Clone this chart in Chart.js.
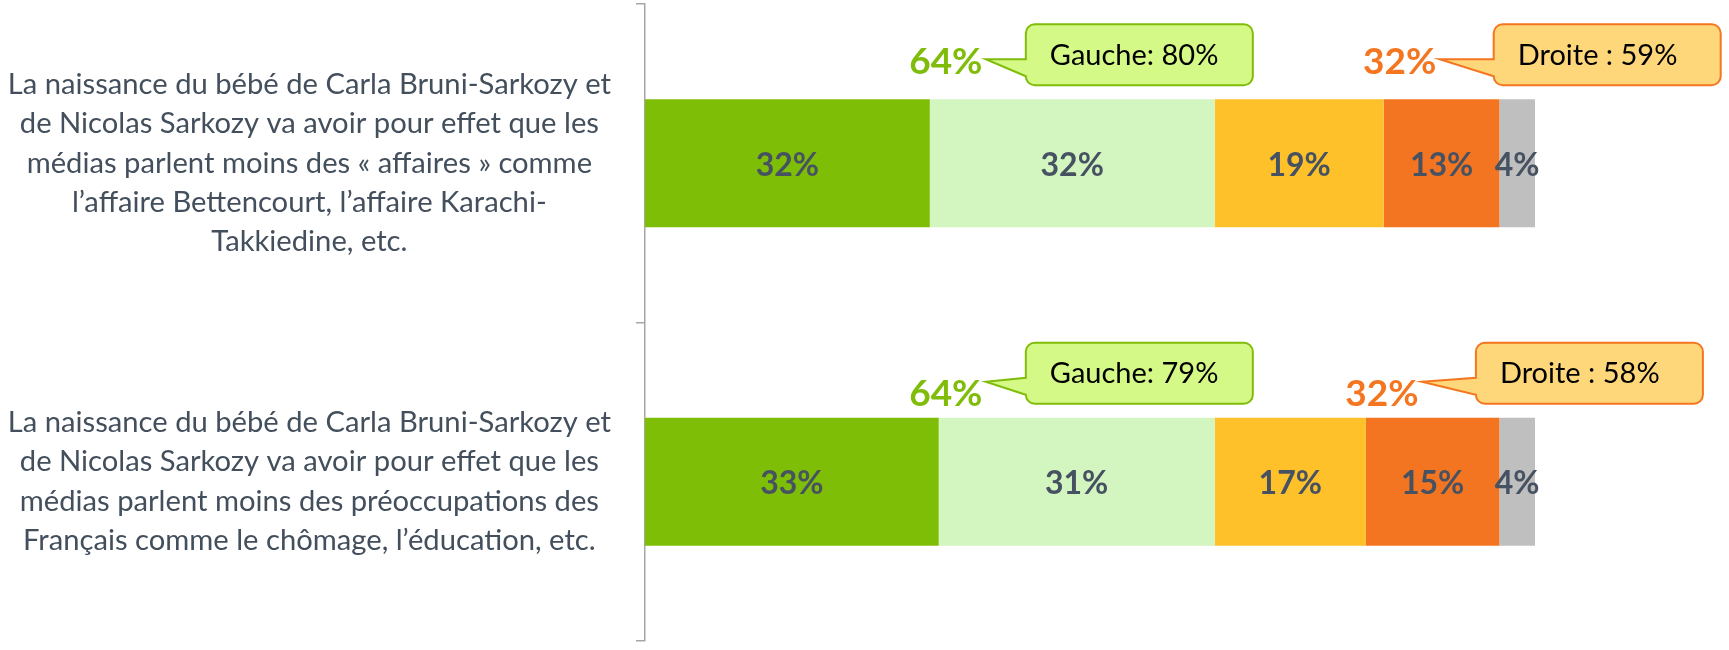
<!DOCTYPE html>
<html>
<head>
<meta charset="utf-8">
<script src="https://cdn.jsdelivr.net/npm/chart.js@4.4.0/dist/chart.umd.min.js"></script>
<style>
  body { margin: 0; background: #fff; }
  #wrap { width: 1729px; height: 650px; }
</style>
</head>
<body>
<div id="wrap"><canvas id="bar-chart"></canvas></div>
<script>
const questions = [
    ["La naissance du bébé de Carla Bruni-Sarkozy et", "de Nicolas Sarkozy va avoir pour effet que les", "médias parlent moins des « affaires » comme", "l’affaire Bettencourt, l’affaire Karachi-", "Takkiedine, etc."],
    ["La naissance du bébé de Carla Bruni-Sarkozy et", "de Nicolas Sarkozy va avoir pour effet que les", "médias parlent moins des préoccupations des", "Français comme le chômage, l’éducation, etc."]
]
const toutAFait = [32, 33]
const plutot = [32, 31]
const plutotPas = [19, 17]
const pasDuTout = [13, 15]
const nsp = [4, 4]

const totalOui = [64, 64]
const totalNon = [32, 32]
const gauche = [80, 79]
const droite = [59, 58]

const VERT = '#80BD0A'
const ORANGE = '#F47621'

/* labels inside the bars */
const barLabels = {
    id: 'barLabels',
    afterDatasetsDraw(chart) {
        const ctx = chart.ctx
        ctx.save()
        ctx.font = 'bold 32px Lato'
        ctx.fillStyle = '#465261'
        ctx.textAlign = 'center'
        ctx.textBaseline = 'middle'
        chart.data.datasets.forEach((ds, di) => {
            chart.getDatasetMeta(di).data.forEach((bar, i) => {
                ctx.fillText(ds.data[i] + '%', (bar.x + bar.base) / 2, bar.y + 2)
            })
        })
        ctx.restore()
    }
}

function bulle(ctx, left, top, w, h, tipX, tipY, fill, stroke, texte) {
    const r = 9
    const right = left + w, bottom = top + h
    ctx.beginPath()
    ctx.moveTo(left + r, top)
    ctx.lineTo(right - r, top)
    ctx.arcTo(right, top, right, top + r, r)
    ctx.lineTo(right, bottom - r)
    ctx.arcTo(right, bottom, right - r, bottom, r)
    ctx.lineTo(left + r, bottom)
    ctx.arcTo(left, bottom, left, bottom - r, r)
    ctx.lineTo(left, top + 52)
    ctx.lineTo(tipX, tipY)
    ctx.lineTo(left, top + 35)
    ctx.lineTo(left, top + r)
    ctx.arcTo(left, top, left + r, top, r)
    ctx.closePath()
    ctx.fillStyle = fill
    ctx.fill()
    ctx.lineWidth = 2
    ctx.strokeStyle = stroke
    ctx.stroke()
    ctx.fillStyle = '#000'
    ctx.font = '29px Lato'
    ctx.textAlign = 'left'
    ctx.textBaseline = 'middle'
    ctx.fillText(texte, left + 24, top + 31)
}

/* totals and the Gauche / Droite callouts */
const bulles = {
    id: 'bulles',
    afterDraw(chart) {
        const ctx = chart.ctx
        const xs = chart.scales.x, ys = chart.scales.y
        const totalDy = [-101, -88]
        const tipDy = [-104, -100]
        ctx.save()
        questions.forEach((q, i) => {
            const yc = ys.getPixelForValue(i)
            const top = yc - 139
            ctx.font = 'bold 37px Lato'
            ctx.textAlign = 'center'
            ctx.textBaseline = 'middle'

            const xOui = xs.getPixelForValue(33.8)
            ctx.fillStyle = VERT
            ctx.fillText(totalOui[i] + '%', xOui, yc + totalDy[i])

            const xNon = xs.getPixelForValue(toutAFait[i] + plutot[i] + plutotPas[i]) + 16
            ctx.fillStyle = ORANGE
            ctx.font = 'bold 37px Lato'
            ctx.textAlign = 'center'
            ctx.fillText(totalNon[i] + '%', xNon, yc + totalDy[i])

            bulle(ctx, xOui + 80, top, 227, 61, xOui + 40, yc + tipDy[i], '#D5F987', VERT, 'Gauche: ' + gauche[i] + '%')
            bulle(ctx, xNon + 94, top, 227, 61, xNon + 40, yc + tipDy[i], '#FFD77B', ORANGE, 'Droite : ' + droite[i] + '%')
        })
        ctx.restore()
    }
}

new Chart(document.getElementById('bar-chart'), {
    type: 'bar',
    data: {
        labels: questions,
        datasets: [
            { label: 'Oui, tout à fait', data: toutAFait, backgroundColor: '#7FBE07' },
            { label: 'Oui, plutôt', data: plutot, backgroundColor: '#D3F5C0' },
            { label: 'Non, plutôt pas', data: plutotPas, backgroundColor: '#FFC12A' },
            { label: 'Non, pas du tout', data: pasDuTout, backgroundColor: '#F47521' },
            { label: 'Ne se prononce pas', data: nsp, backgroundColor: '#BFBFBF' }
        ]
    },
    options: {
        indexAxis: 'y',
        responsive: true,
        maintainAspectRatio: false,
        animation: false,
        barPercentage: 0.402,
        categoryPercentage: 1,
        layout: { padding: { top: 4, bottom: 9, left: 0, right: 194 } },
        plugins: {
            legend: { display: false },
            tooltip: { enabled: false }
        },
        scales: {
            x: { stacked: true, min: 0, max: 100, display: false },
            y: {
                stacked: true,
                afterFit: scale => {
                    scale.width = 645
                    // labels stay inside their bands, no extra room above/below
                    scale.paddingTop = 0
                    scale.paddingBottom = 0
                },
                border: { color: '#A6A6A6', width: 1.5 },
                grid: { drawOnChartArea: false, tickLength: 9, color: '#A6A6A6', lineWidth: 1.5 },
                ticks: {
                    crossAlign: 'center',
                    padding: 25,
                    color: '#434F5C',
                    font: { family: 'Lato', size: 29.2, lineHeight: '39.4px' }
                }
            }
        }
    },
    plugins: [barLabels, bulles]
});
</script>
</body>
</html>
